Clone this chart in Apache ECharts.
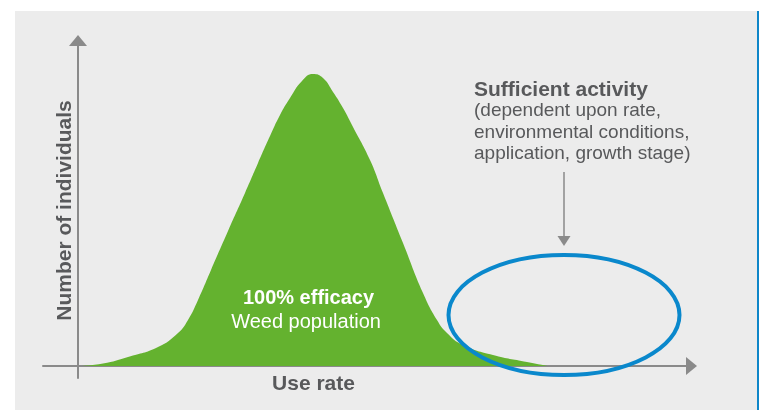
<!DOCTYPE html>
<html>
<head>
<meta charset="utf-8">
<script src="https://cdn.jsdelivr.net/npm/echarts@6/dist/echarts.min.js"></script>
<style>
html,body{margin:0;padding:0;background:#ffffff;}
#wrap{position:relative;width:760px;height:410px;overflow:hidden;}
#panel{position:absolute;left:15px;top:11px;width:742px;height:399px;background:#ececec;}
#edge{position:absolute;left:757px;top:11px;width:2px;height:399px;background:#0f86c8;}
#chart{position:absolute;left:0;top:0;width:760px;height:410px;}
</style>
</head>
<body>
<div id="wrap"><div id="panel"></div><div id="edge"></div><div id="chart"></div></div>
<script>
// Use rate (x) values of the weed population distribution
const useRate = [2, 25, 50, 80, 100, 110, 120, 133, 150, 167, 180, 192, 202, 212, 224, 235, 245, 255, 265, 275, 292, 305, 325, 345, 359, 369, 385, 415, 449, 470];
// Number of individuals (y) at each use rate
const individuals = [0, 2.5, 9, 19, 33, 46, 66, 96, 135, 173, 203, 230, 251, 268, 285, 292, 288, 274, 258, 239, 206, 173, 123, 73, 46, 33, 21, 11, 4, 0];
const xAxisTitle = 'Use rate';
const yAxisTitle = 'Number of individuals';
const peakLabel = ['100% efficacy', 'Weed population'];
const noteTitle = 'Sufficient activity';
const noteLines = ['(dependent upon rate,', 'environmental conditions,', 'application, growth stage)'];

const FONT = '"Liberation Sans", Arial, Helvetica, sans-serif';
const TXT = '#58595b';
const AX = '#8a8a8a';

const chart = echarts.init(document.getElementById('chart'), null, {renderer: 'canvas'});
const pts = useRate.map((x, i) => [x, individuals[i]]);

const graphics = [
  {type: 'text', style: {text: noteTitle, x: 474, y: 90, font: 'bold 21px ' + FONT, fill: TXT, textAlign: 'left', textVerticalAlign: 'middle'}},
  {type: 'text', style: {text: noteLines[0], x: 474, y: 111, font: '19px ' + FONT, fill: TXT, textAlign: 'left', textVerticalAlign: 'middle'}},
  {type: 'text', style: {text: noteLines[1], x: 474, y: 132.5, font: '19px ' + FONT, fill: TXT, textAlign: 'left', textVerticalAlign: 'middle'}},
  {type: 'text', style: {text: noteLines[2], x: 474, y: 154, font: '19px ' + FONT, fill: TXT, textAlign: 'left', textVerticalAlign: 'middle'}},
  {type: 'line', shape: {x1: 564, y1: 172, x2: 564, y2: 237}, style: {stroke: AX, lineWidth: 1.5}},
  {type: 'polygon', shape: {points: [[557.5, 236], [570.5, 236], [564, 246]]}, style: {fill: AX}},
  {type: 'ellipse', shape: {cx: 564, cy: 315, rx: 115.5, ry: 60}, style: {fill: 'none', stroke: '#0a88cc', lineWidth: 4}, z: 100},
  {type: 'text', style: {text: peakLabel[0], x: 308.5, y: 298, font: 'bold 20px ' + FONT, fill: '#ffffff', textAlign: 'center', textVerticalAlign: 'middle'}, z: 100},
  {type: 'text', style: {text: peakLabel[1], x: 306, y: 322, font: '20px ' + FONT, fill: '#ffffff', textAlign: 'center', textVerticalAlign: 'middle'}, z: 100},
  {type: 'text', style: {text: xAxisTitle, x: 313.5, y: 384.5, font: 'bold 21px ' + FONT, fill: TXT, textAlign: 'center', textVerticalAlign: 'middle'}},
  {type: 'text', x: 65.5, y: 210.5, rotation: Math.PI / 2, style: {text: yAxisTitle, x: 0, y: 0, font: 'bold 21px ' + FONT, fill: TXT, textAlign: 'center', textVerticalAlign: 'middle'}}
];

chart.setOption({
  animation: false,
  backgroundColor: 'transparent',
  grid: {left: 43, right: 68.5, top: 40.5, bottom: 32, containLabel: false},
  xAxis: {
    type: 'value', min: -35, max: 613.5,
    axisLine: {show: true, onZero: true, symbol: ['none', 'triangle'], symbolSize: [18, 11], lineStyle: {color: AX, width: 2}},
    axisTick: {show: false}, axisLabel: {show: false}, splitLine: {show: false}
  },
  yAxis: {
    type: 'value', min: -12, max: 325.5,
    axisLine: {show: true, onZero: true, symbol: ['none', 'triangle'], symbolSize: [18, 11], lineStyle: {color: AX, width: 2}},
    axisTick: {show: false}, axisLabel: {show: false}, splitLine: {show: false}
  },
  series: [{
    type: 'line', data: pts, smooth: 0.5, showSymbol: false, symbol: 'none',
    lineStyle: {width: 0, color: '#64b22f'},
    areaStyle: {color: '#64b22f', opacity: 1, origin: 0},
    z: 1
  }],
  graphic: graphics
});
</script>
</body>
</html>
